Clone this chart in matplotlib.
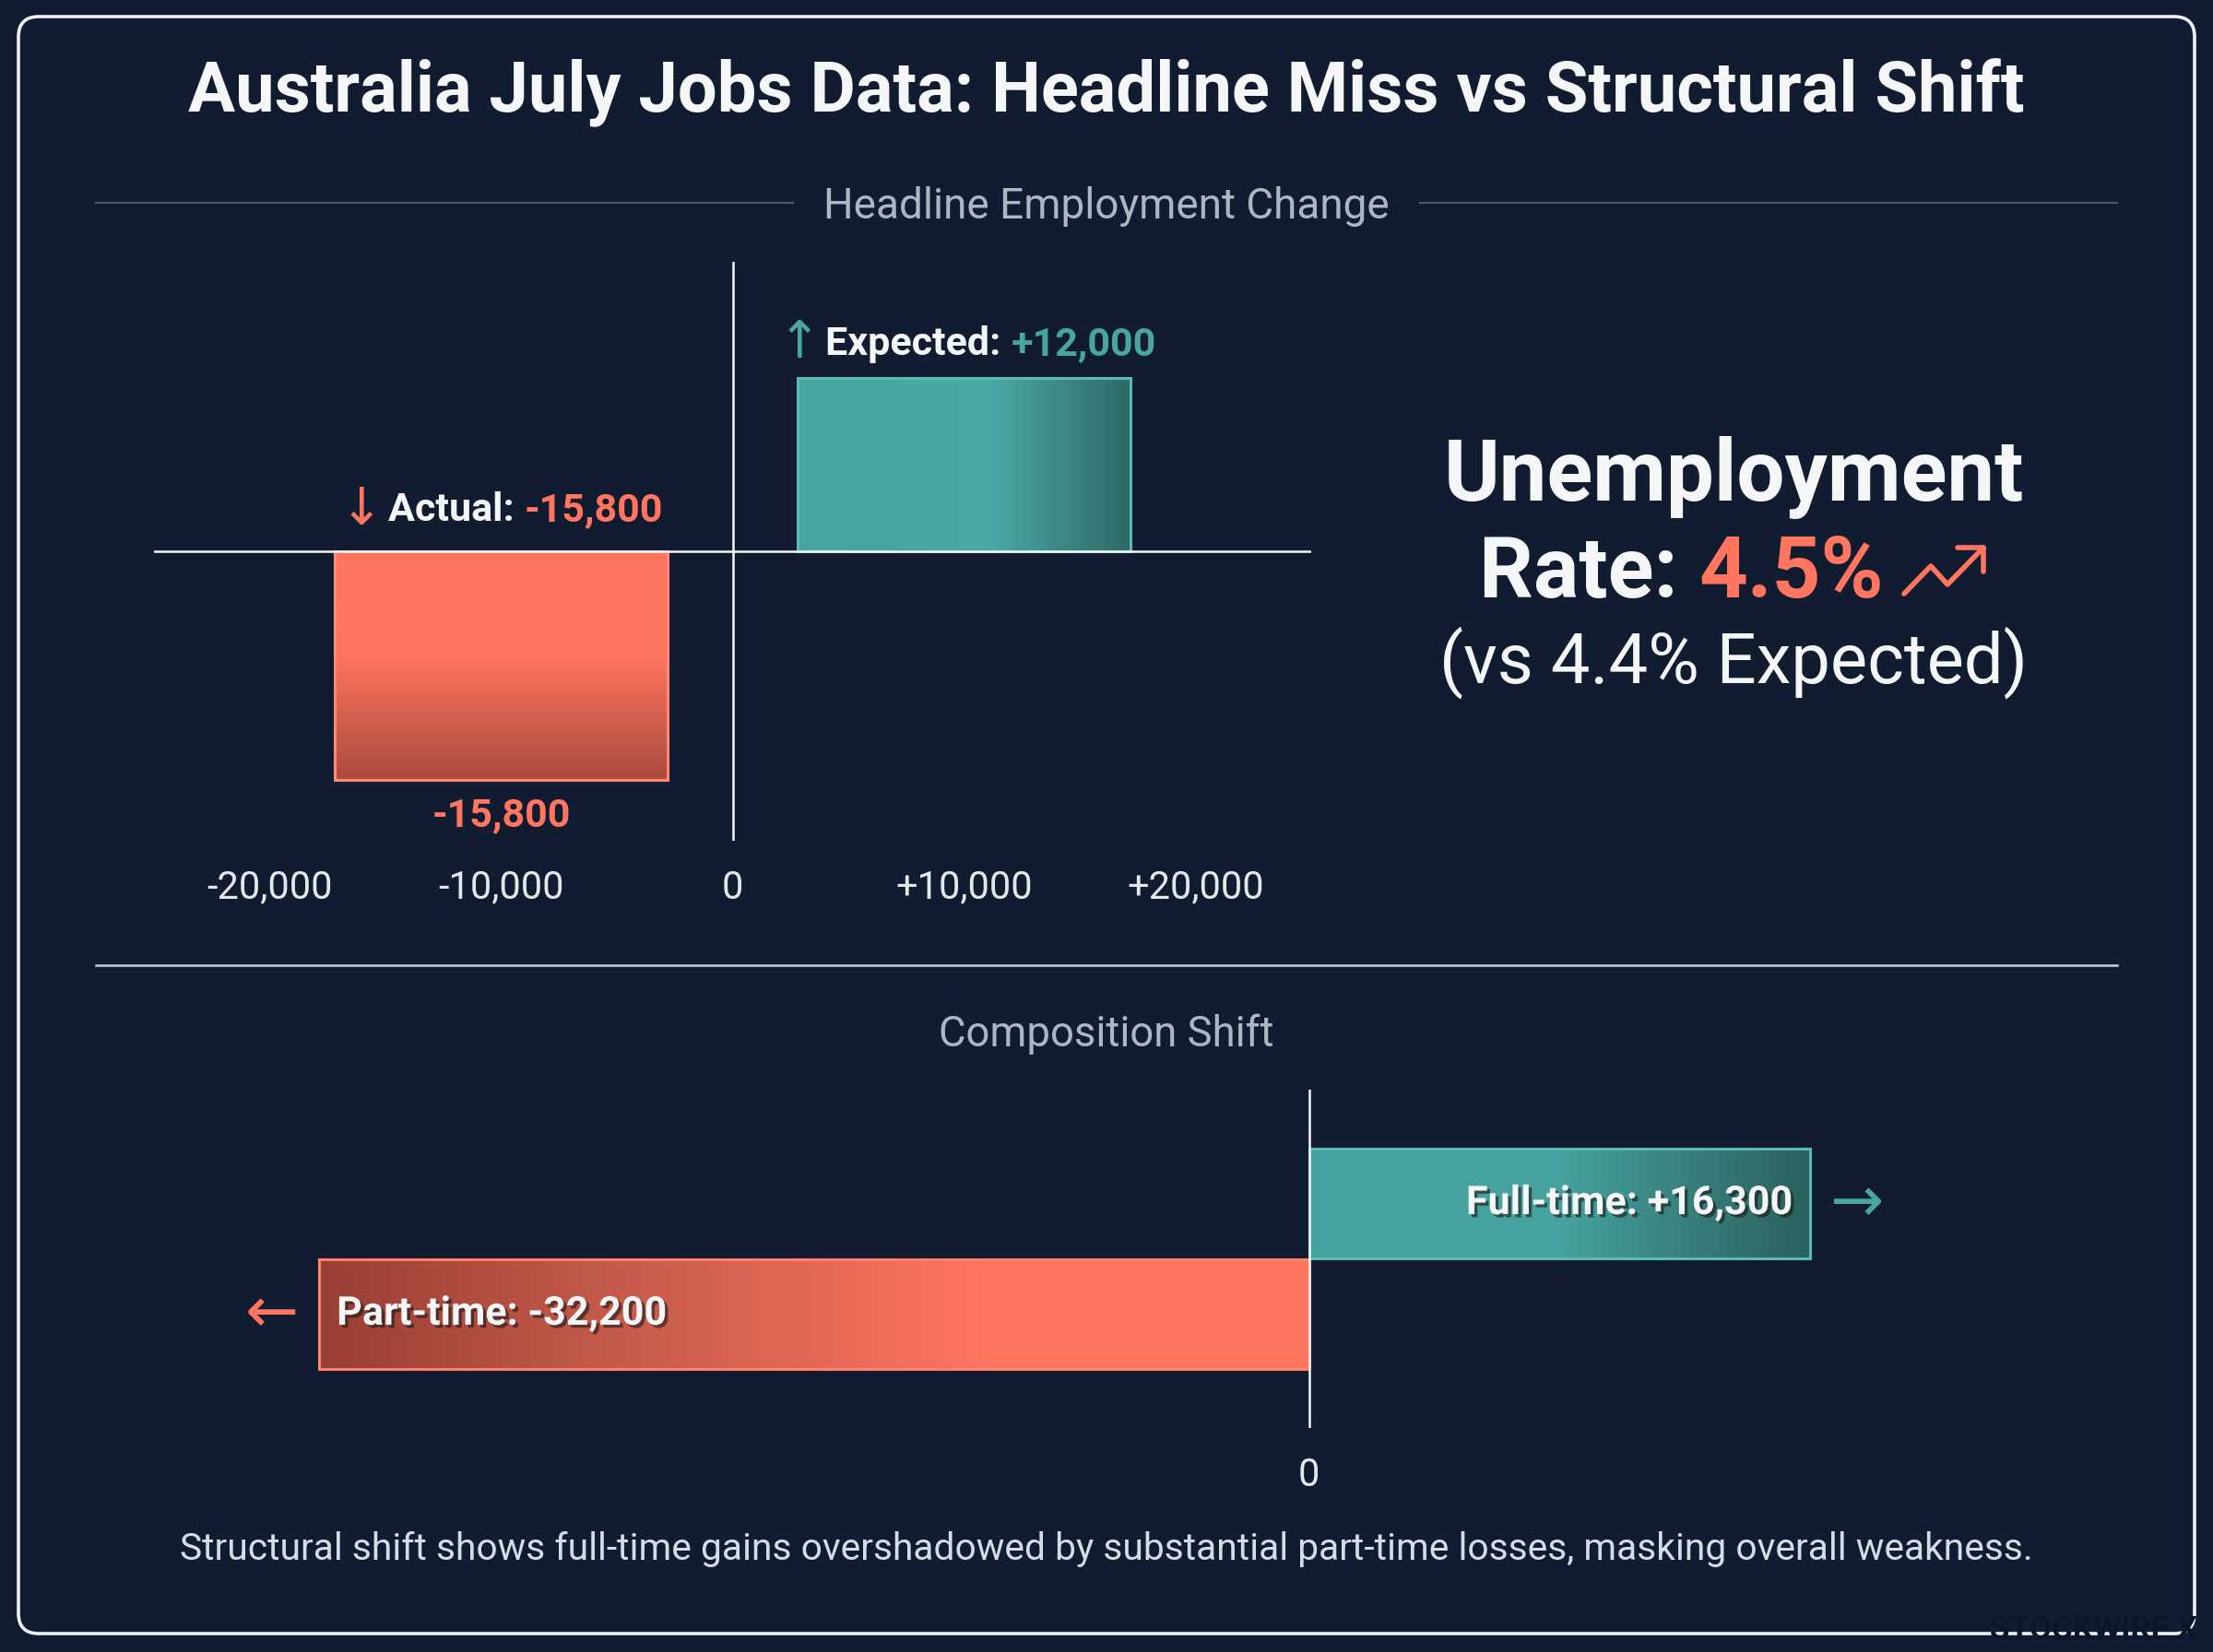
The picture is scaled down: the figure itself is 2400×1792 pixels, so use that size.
"""Australia July jobs infographic: headline miss vs structural shift."""

import matplotlib
matplotlib.use("Agg")
import matplotlib.pyplot as plt
import matplotlib.patheffects as pe
import numpy as np
from matplotlib.colors import LinearSegmentedColormap
from matplotlib.patches import FancyBboxPatch, Rectangle

plt.rcParams["font.family"] = ["Roboto", "DejaVu Sans"]

W, H, DPI = 2400, 1792, 200

# ---- data -------------------------------------------------------------
headline_labels = ["Actual", "Expected"]
headline_values = [-15800, 12000]
headline_slots = [-10000, 10000]          # where each bar sits on the x scale
headline_ticks = [-20000, -10000, 0, 10000, 20000]
headline_tick_labels = ["-20,000", "-10,000", "0", "+10,000", "+20,000"]

composition_labels = ["Part-time", "Full-time"]
composition_values = [-32200, 16300]

rate_actual = "4.5%"
rate_expected = "4.4%"

# ---- colours ----------------------------------------------------------
BG = "#111c31"
CORAL = "#ff7560"
TEAL = "#48a6a2"
WHITE = "#f4f6f8"
GRAY = "#aeb6c1"
RULE = "#4a5668"
TICK = "#e4e8ec"


def fmt(v):
    return f"{v:+,}".replace("+-", "-")


def gradient_rect(ax, x0, y0, w, h, stops, horizontal, edge):
    cmap = LinearSegmentedColormap.from_list("grad", stops)
    g = np.linspace(0, 1, 256)
    img = g[None, :] if horizontal else g[:, None]
    rect = Rectangle((x0, y0), w, h, facecolor="none", edgecolor=edge,
                     lw=1.1, zorder=3)
    ax.add_patch(rect)
    im = ax.imshow(img, cmap=cmap, extent=[x0, x0 + w, y0, y0 + h],
                   aspect="auto", origin="lower", zorder=2,
                   interpolation="bilinear")
    im.set_clip_path(rect)
    return rect


def chain(ax, first, parts, size, weight="bold"):
    prev = first
    for txt, color in parts:
        prev = ax.annotate(txt, xy=(1, 0), xycoords=prev, xytext=(0, 0),
                           textcoords="offset points", ha="left", va="bottom",
                           color=color, fontsize=size, fontweight=weight)
    return prev


fig = plt.figure(figsize=(W / DPI, H / DPI), dpi=DPI, facecolor=BG)

# background layer in pixel coordinates
bg = fig.add_axes([0, 0, 1, 1])
bg.set_xlim(0, W)
bg.set_ylim(H, 0)
bg.axis("off")
bg.set_facecolor(BG)

bg.add_patch(FancyBboxPatch((20, 18), 2360, 1754,
                            boxstyle="round,pad=0,rounding_size=22",
                            facecolor="none", edgecolor="#eef1f4", lw=1.3))

bg.text(1200, 100, "Australia July Jobs Data: Headline Miss vs Structural Shift",
        ha="center", va="center", color=WHITE, fontsize=27.3, fontweight="bold")

# section header with side rules
bg.text(1200, 224, "Headline Employment Change", ha="center", va="center",
        color=GRAY, fontsize=16.5)
bg.plot([104, 860], [220, 220], color=RULE, lw=0.8)
bg.plot([1540, 2296], [220, 220], color=RULE, lw=0.8)

# separator and second header
bg.plot([104, 2296], [1047, 1047], color="#c9cfd7", lw=0.9)
bg.text(1200, 1122, "Composition Shift", ha="center", va="center",
        color=GRAY, fontsize=16.4)

# unemployment call-out
bg.text(1880, 518, "Unemployment", ha="center", va="center",
        color=WHITE, fontsize=33.2, fontweight="bold")
rate = bg.text(1604, 648, "Rate: ", ha="left", va="baseline",
               color=WHITE, fontsize=33.2, fontweight="bold")
chain(bg, rate, [(rate_actual, CORAL)], 33.2)
# trending-up icon
bg.plot([2065, 2094, 2112, 2151], [644, 614, 634, 594], color=CORAL,
        lw=2.0, solid_capstyle="round", solid_joinstyle="round")
bg.plot([2123, 2151, 2151], [594, 594, 620], color=CORAL,
        lw=2.0, solid_capstyle="round", solid_joinstyle="round")
bg.text(1880, 719, f"(vs {rate_expected} Expected)", ha="center", va="center",
        color=WHITE, fontsize=27.3)

bg.text(1200, 1680,
        "Structural shift shows full-time gains overshadowed by substantial "
        "part-time losses, masking overall weakness.",
        ha="center", va="center", color="#d6dce4", fontsize=14.7)

bg.text(2270, 1768, "STOCKWIRE X", ha="center", va="center",
        color="#0c1628", fontsize=12.5, fontweight="bold", zorder=5)

# ---- headline bars ----------------------------------------------------
ax1 = fig.add_axes([167 / W, 1 - 912 / H, 1255 / W, 628 / H])
ax1.set_facecolor("none")
bar_w = 14400
styles = {
    "Actual": dict(stops=[(0, "#ab4a3e"), (0.55, CORAL), (1, CORAL)],
                   horizontal=False, edge="#ff8a74", color=CORAL, arrow="↓"),
    "Expected": dict(stops=[(0, "#46a39f"), (0.58, "#4aa9a5"), (1, "#2e6966")],
                     horizontal=True, edge="#5cbab5", color=TEAL, arrow="↑"),
}
for lab, val, slot in zip(headline_labels, headline_values, headline_slots):
    st = styles[lab]
    x0 = slot - bar_w / 2
    gradient_rect(ax1, x0, min(val, 0), bar_w, abs(val), st["stops"],
                  st["horizontal"], st["edge"])
    if val < 0:
        anchor, off = (x0, 0), (21, 16)
        ax1.annotate(fmt(val), xy=(slot, val), xytext=(0, -14),
                     textcoords="offset points", ha="center", va="center",
                     color=st["color"], fontsize=15.5, fontweight="bold")
    else:
        anchor, off = (x0, val), (11, 13)
    head = ax1.annotate(f"{lab}: ", xy=anchor, xytext=off,
                        textcoords="offset points", ha="left", va="center",
                        color=WHITE, fontsize=15.5, fontweight="bold")
    chain(ax1, head, [(fmt(val), st["color"])], 15.5)
    ax1.annotate(st["arrow"], xy=(0, 0.5), xycoords=head, xytext=(-2, 0),
                 textcoords="offset points", ha="right", va="center",
                 color=st["color"], fontsize=20, family="DejaVu Sans")

ax1.axhline(0, color=WHITE, lw=0.9, zorder=4)
ax1.axvline(0, color=WHITE, lw=0.9, zorder=4)
ax1.set_xlim(-25000, 25000)
ax1.set_ylim(-20000, 20000)
ax1.set_xticks(headline_ticks, headline_tick_labels)
ax1.set_yticks([])
ax1.tick_params(axis="x", length=0, pad=11, labelsize=15, labelcolor=TICK)
for s in ax1.spines.values():
    s.set_visible(False)

# ---- composition bars -------------------------------------------------
ax2 = fig.add_axes([219 / W, 1 - 1549 / H, 2101 / W, 367 / H])
ax2.set_facecolor("none")
comp_styles = {
    "Part-time": dict(stops=[(0, "#983f33"), (0.3, "#c65b4b"), (0.68, CORAL), (1, CORAL)],
                      edge="#ff806b", color=CORAL),
    "Full-time": dict(stops=[(0, "#46a39f"), (0.5, "#46a29e"), (1, "#2b5f5d")],
                      edge="#5cbab5", color=TEAL),
}
shadow = [pe.withSimplePatchShadow(offset=(1.2, -1.2), shadow_rgbFace="#1a1a1a", alpha=0.6)]
for i, (lab, val) in enumerate(zip(composition_labels, composition_values)):
    st = comp_styles[lab]
    gradient_rect(ax2, min(val, 0), i - 0.495, abs(val), 0.99, st["stops"],
                  True, st["edge"])
    side = -1 if val < 0 else 1
    ax2.annotate(f"{lab}: {fmt(val)}", xy=(val, i), xytext=(-7 * side, 0),
                 textcoords="offset points",
                 ha="left" if val < 0 else "right", va="center",
                 color=WHITE, fontsize=15.5, fontweight="bold",
                 path_effects=shadow, zorder=5)
    ax2.annotate("←" if val < 0 else "→", xy=(val, i), xytext=(8 * side, 0),
                 textcoords="offset points",
                 ha="right" if val < 0 else "left", va="center",
                 color=st["color"], fontsize=25, family="DejaVu Sans", zorder=5)

ax2.axvline(0, color=WHITE, lw=0.9, zorder=4)
ax2.set_xlim(-36000, 27000)
ax2.set_ylim(-1.03, 2.03)
ax2.set_xticks([0], ["0"])
ax2.set_yticks([])
ax2.tick_params(axis="x", length=0, pad=11, labelsize=15, labelcolor=TICK)
for s in ax2.spines.values():
    s.set_visible(False)

fig.savefig("out.png", dpi=DPI, facecolor=BG)
